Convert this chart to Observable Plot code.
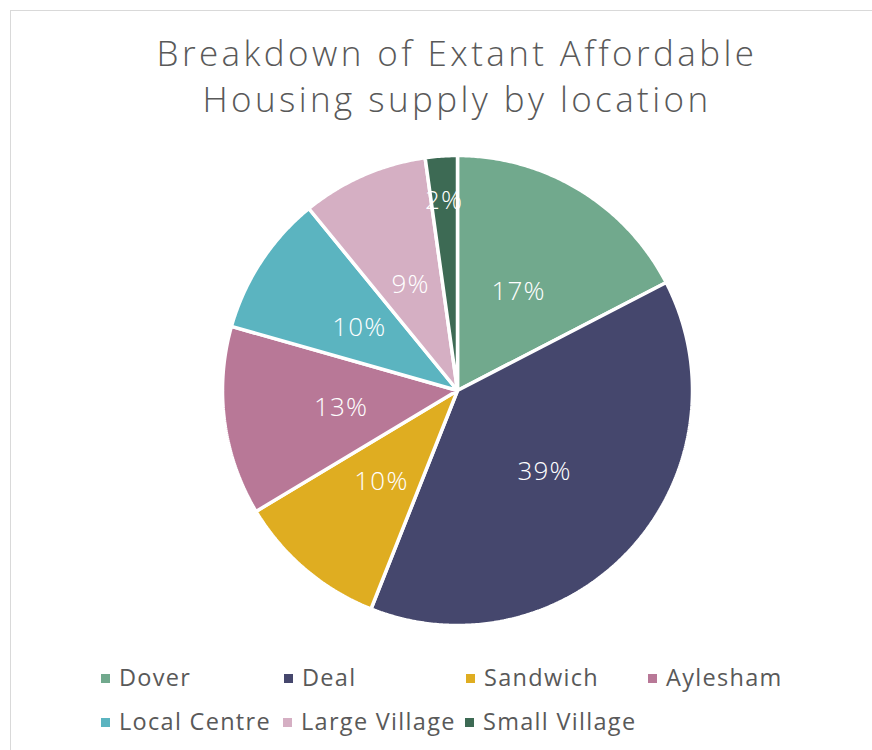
<!DOCTYPE html>
<html>
<head>
<meta charset="utf-8">
<script src="https://cdn.jsdelivr.net/npm/d3@7"></script>
<script src="https://cdn.jsdelivr.net/npm/@observablehq/plot@0.6"></script>
<style>
  body { margin: 0; background: #fff; width: 872px; height: 750px; overflow: hidden; position: relative; font-family: "Open Sans", sans-serif; }
  #frame { position: absolute; left: 10px; top: 10px; width: 1000px; height: 1000px; border-top: 1.5px solid #d9d9d9; border-left: 1.5px solid #d9d9d9; }
  #title { position: absolute; left: 0; width: 914px; top: 30px; text-align: center; color: #595959; font-size: 35px; font-weight: 300; line-height: 46px; letter-spacing: 3.4px; }
  #chart { position: absolute; left: 0; top: 150px; }
  .leg { position: absolute; color: #595959; font-size: 23.5px; font-weight: 400; white-space: nowrap; line-height: 26px; letter-spacing: 1.3px; }
  .leg span.sw { display: inline-block; width: 9px; height: 9px; margin-right: 9px; vertical-align: 3px; }
</style>
</head>
<body>
<div id="frame"></div>
<div id="title">Breakdown of Extant Affordable<br>Housing supply by location</div>
<div id="chart"></div>
<div id="legend"></div>
<script>
// Data
const categories = ["Dover", "Deal", "Sandwich", "Aylesham", "Local Centre", "Large Village", "Small Village"];
const shares = [17.4, 38.6, 10.4, 13.0, 9.7, 8.7, 2.2];
const colors = ["#71a98d", "#45476d", "#dfad21", "#b87897", "#5bb4c0", "#d5afc3", "#3d6a54"];
const legendRows = [["Dover", "Deal", "Sandwich", "Aylesham"], ["Local Centre", "Large Village", "Small Village"]];

// Build slice polygons in unit-circle coordinates (clockwise from 12 o'clock)
const total = d3.sum(shares);
const pie = d3.pie().sort(null).value(d => d)(shares);
const pts = [];
const labels = [];
categories.forEach((name, i) => {
  const a0 = pie[i].startAngle, a1 = pie[i].endAngle;
  pts.push({name, x: 0, y: 0});
  const n = Math.max(2, Math.ceil((a1 - a0) / (Math.PI / 360)));
  for (let k = 0; k <= n; k++) {
    const a = a0 + (a1 - a0) * k / n;
    pts.push({name, x: Math.sin(a), y: Math.cos(a)});
  }
  const am = (a0 + a1) / 2;
  const pct = shares[i] / total * 100;
  const lr = pct < 5 ? 0.82 : 0.5; // thin slices get their label pushed outward (best fit)
  labels.push({name, x: lr * Math.sin(am), y: lr * Math.cos(am), text: Math.round(pct) + "%"});
});

const R = 235, cx = 457, cy = 240, W = 872, H = 480;
const chart = Plot.plot({
  width: W,
  height: H,
  marginLeft: cx - R,
  marginRight: W - cx - R,
  marginTop: cy - R,
  marginBottom: H - cy - R,
  x: {domain: [-1, 1], axis: null},
  y: {domain: [-1, 1], axis: null},
  color: {domain: categories, range: colors},
  style: {fontFamily: "Open Sans, sans-serif", background: "transparent"},
  marks: [
    Plot.line(pts, {x: "x", y: "y", z: "name", fill: "name", stroke: "white", strokeWidth: 3.5, curve: "linear-closed", strokeLinejoin: "miter"}),
    Plot.text(labels, {x: "x", y: "y", text: "text", fill: "white", fontSize: 26, fontWeight: 300, dy: 2, letterSpacing: 1})
  ]
});
chart.querySelectorAll("text").forEach(t => t.style.letterSpacing = "1.2px");
document.getElementById("chart").appendChild(chart);

// Legend
const legend = document.getElementById("legend");
const colX = [101, 284, 466, 648];
const rowX2 = [101, 283, 465];
const rowY = [664, 708];
legendRows.forEach((row, r) => {
  row.forEach((name, j) => {
    const div = document.createElement("div");
    div.className = "leg";
    div.style.left = (r === 0 ? colX[j] : rowX2[j]) + "px";
    div.style.top = rowY[r] + "px";
    const sw = document.createElement("span");
    sw.className = "sw";
    sw.style.background = colors[categories.indexOf(name)];
    div.appendChild(sw);
    div.appendChild(document.createTextNode(name));
    legend.appendChild(div);
  });
});
</script>
</body>
</html>
